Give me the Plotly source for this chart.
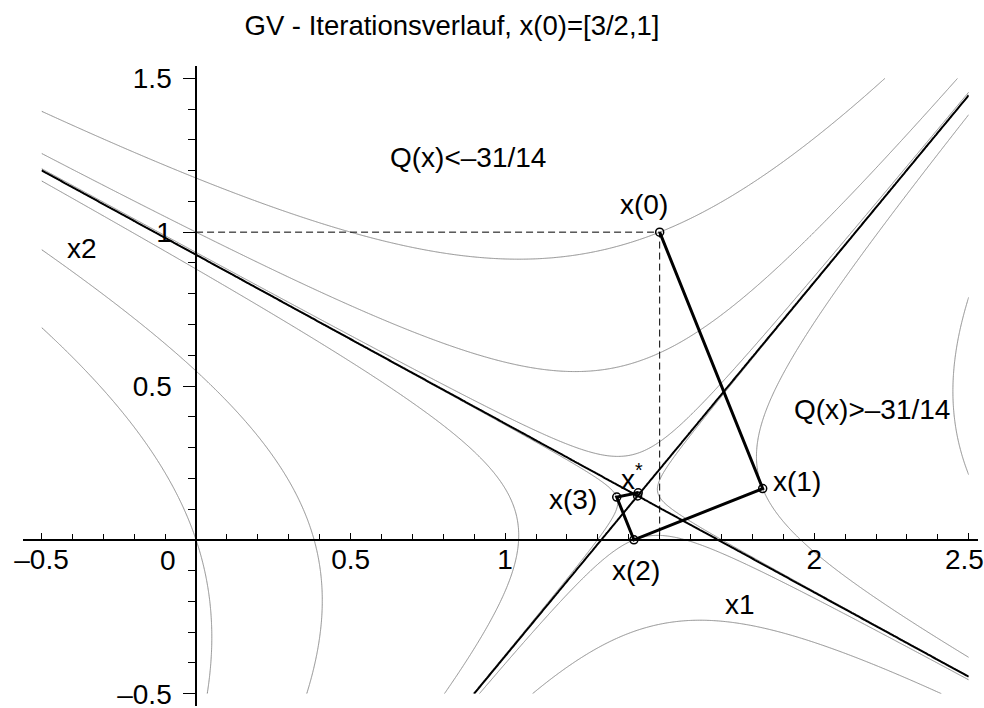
import numpy as np
import plotly.graph_objects as go

# Quadratic function Q(x) = 1/2 x^T A x - b^T x (indefinite A -> saddle point)
A = [[2.0, 1.0], [1.0, -3.0]]
B = [3.0, 1.0]

# Iterates x(0) ... x(4) of the gradient method and the stationary point x*
ITER_X1 = [3 / 2, 11 / 6, 17 / 12, 49 / 36, 103 / 72]
ITER_X2 = [1.0, 1 / 6, 0.0, 5 / 36, 11 / 72]
XSTAR_X1 = [10 / 7]
XSTAR_X2 = [1 / 7]

# Contour levels: Q at the iterates plus a few fixed values; the saddle level in black
GREY_LEVELS = [-3.25, -2.5, -2.2431, -2.2095, -2.0417, -1.0, 0.0]
SADDLE_LEVEL = -31 / 14

X_TICKS = [-0.5, 0, 0.5, 1, 1.5, 2, 2.5]
X_TICK_TEXT = ["–0.5", "", "0.5", "1", "", "2", ""]
Y_TICKS = [-0.5, 0, 0.5, 1, 1.5]
Y_TICK_TEXT = ["–0.5", "", "0.5", "1", "1.5"]

FONT = "Liberation Sans, Arial, Helvetica, sans-serif"
FS = 28

# evaluation grid over the contour domain [-0.5, 2.5] x [-0.5, 1.5]
g1 = np.linspace(-0.5, 2.5, 401)
g2 = np.linspace(-0.5, 1.5, 268)
G1, G2 = np.meshgrid(g1, g2)
Z = (0.5 * (A[0][0] * G1**2 + 2 * A[0][1] * G1 * G2 + A[1][1] * G2**2)
     - B[0] * G1 - B[1] * G2).astype(np.float32)


def level_trace(level, color, width):
    return go.Contour(
        x=g1, y=g2, z=Z,
        autocontour=False,
        contours=dict(start=level, end=level + 0.5, size=1.0,
                      coloring="none", showlabels=False),
        line=dict(color=color, width=width, smoothing=0),
        showscale=False, hoverinfo="skip",
    )


fig = go.Figure()
for lvl in GREY_LEVELS:
    fig.add_trace(level_trace(lvl, "#8a8a8a", 1))
fig.add_trace(level_trace(SADDLE_LEVEL, "black", 2))

# projection of x(0) onto the axes
x0, y0 = ITER_X1[0], ITER_X2[0]
fig.add_trace(go.Scatter(
    x=[0, x0, x0], y=[y0, y0, 0], mode="lines",
    line=dict(color="black", width=1, dash="7px,4px"),
    hoverinfo="skip", showlegend=False,
))

# iteration path
fig.add_trace(go.Scatter(
    x=ITER_X1, y=ITER_X2, mode="lines+markers",
    line=dict(color="black", width=3),
    marker=dict(symbol="circle-open", size=8, color="black", line=dict(width=1.5)),
    hoverinfo="skip", showlegend=False,
))
fig.add_trace(go.Scatter(
    x=XSTAR_X1, y=XSTAR_X2, mode="markers",
    marker=dict(symbol="circle-open", size=8, color="black", line=dict(width=1.5)),
    hoverinfo="skip", showlegend=False,
))

XR = [-0.56, 2.53]
YR = [-0.54, 1.54]

fig.update_layout(
    width=984, height=708,
    margin=dict(l=23, r=6, t=66, b=2, autoexpand=False),
    paper_bgcolor="white", plot_bgcolor="white",
    showlegend=False,
    font=dict(family=FONT, size=FS, color="black"),
    title=dict(text="GV - Iterationsverlauf, x(0)=[3/2,1]",
               x=452 / 984, xanchor="center", y=1 - 25 / 708, yanchor="middle",
               font=dict(family=FONT, size=27.5, color="black")),
    xaxis=dict(
        range=XR, showgrid=False, zeroline=False, automargin=False,
        showline=True, linecolor="black", linewidth=1.5,
        anchor="free", position=(0 - YR[0]) / (YR[1] - YR[0]),
        tickmode="array", tickvals=X_TICKS, ticktext=X_TICK_TEXT,
        ticks="inside", ticklen=6, tickwidth=1, tickcolor="black",
        ticklabelstandoff=-5, ticklabeloverflow="allow",
        minor=dict(tickmode="linear", tick0=0, dtick=0.1, ticks="inside",
                   ticklen=5, tickwidth=1, tickcolor="black", showgrid=False),
        tickfont=dict(family=FONT, size=FS, color="black"),
    ),
    yaxis=dict(
        range=YR, showgrid=False, zeroline=False, automargin=False,
        showline=True, linecolor="black", linewidth=1.5,
        anchor="free", position=(0 - XR[0]) / (XR[1] - XR[0]),
        tickmode="array", tickvals=Y_TICKS, ticktext=Y_TICK_TEXT,
        ticks="outside", ticklen=12, tickwidth=1, tickcolor="black",
        ticklabelstandoff=6, ticklabeloverflow="allow",
        minor=dict(tickmode="linear", tick0=0, dtick=0.1, ticks="outside",
                   ticklen=7, tickwidth=1, tickcolor="black", showgrid=False),
        tickfont=dict(family=FONT, size=FS, color="black"),
    ),
)

labels = [
    ("Q(x)<–31/14", 0.880, 1.244),
    ("Q(x)>–31/14", 2.187, 0.424),
    ("x(0)", 1.450, 1.090),
    ("x(1)", 1.945, 0.190),
    ("x(2)", 1.422, -0.100),
    ("x(3)", 1.220, 0.130),
    ("x<sup>*</sup>", 1.410, 0.205),
    ("x2", -0.369, 0.948),
    ("x1", 1.760, -0.210),
    ("0", -0.090, -0.068),
]
for text, ax, ay in labels:
    fig.add_annotation(x=ax, y=ay, text=text, showarrow=False,
                       xanchor="center", yanchor="middle",
                       font=dict(family=FONT, size=FS, color="black"))

# last x tick label, nudged inward so it stays inside the page
fig.add_annotation(x=2.5, y=-0.063, text="2.5", showarrow=False,
                   xanchor="center", yanchor="middle", xshift=-4,
                   font=dict(family=FONT, size=FS, color="black"))

fig.write_html("out.html")
